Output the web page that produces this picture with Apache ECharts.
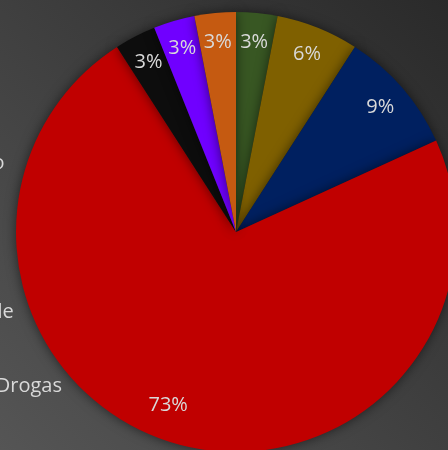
<!DOCTYPE html>
<html><head><meta charset="utf-8">
<script src="https://cdn.jsdelivr.net/npm/echarts@6/dist/echarts.min.js"></script>
<style>html,body{margin:0;padding:0;background:#3c3c3c}#c{width:448px;height:450px}</style>
</head><body><div id="c"></div>
<script>
const categories = ['Hurto', 'Lesiones', 'Feminicidio', 'Robo', 'Robo simple', 'Tráfico de Drogas', 'Otros'];
const values = [1, 2, 3, 24, 1, 1, 1];
const colors = ['#385723', '#7f6000', '#002060', '#c00000', '#0d0d0d', '#7000ff', '#c55a11'];

const FONT = 'Open Sans';
const cv = document.createElement('canvas').getContext('2d');
cv.font = '20px "Open Sans"';
const w6 = cv.measureText(categories[5]).width;
const legendLeft = 62 - w6 - 14 - 5;

const data = categories.map((n, i) => ({ name: n, value: values[i], itemStyle: { color: colors[i] } }));

const chart = echarts.init(document.getElementById('c'));
chart.setOption({
  backgroundColor: {
    type: 'linear', x: 0, y: 1, x2: 1, y2: 0,
    colorStops: [{ offset: 0, color: '#555555' }, { offset: 1, color: '#2a2a2a' }]
  },
  animation: false,
  legend: {
    orient: 'vertical', left: legendLeft, top: 5, height: 700, padding: 0,
    itemWidth: 14, itemHeight: 20, itemGap: 54.2,
    textStyle: { color: '#d9d9d9', fontFamily: FONT, fontSize: 20, lineHeight: 20 },
    data: categories
  },
  series: [
    {
      type: 'pie', center: [236, 232], radius: [0, 220], startAngle: 90,
      data: data, label: { show: false }, labelLine: { show: false },
      itemStyle: { shadowBlur: 12, shadowColor: 'rgba(0,0,0,0.55)', borderWidth: 0 },
      emphasis: { disabled: true }, silent: true
    },
    {
      type: 'pie', center: [236, 232], radius: [156, 220], startAngle: 90,
      percentPrecision: 0, silent: true, emphasis: { disabled: true },
      data: categories.map((n, i) => ({
        name: n, value: values[i],
        label: i === 3 ? { offset: [-14, -10] } : undefined
      })),
      itemStyle: { color: 'rgba(0,0,0,0)' },
      label: { show: true, position: 'inside', formatter: '{d}%', color: '#d9d9d9', fontFamily: FONT, fontSize: 20 },
      labelLine: { show: false }
    }
  ]
});
</script></body></html>
